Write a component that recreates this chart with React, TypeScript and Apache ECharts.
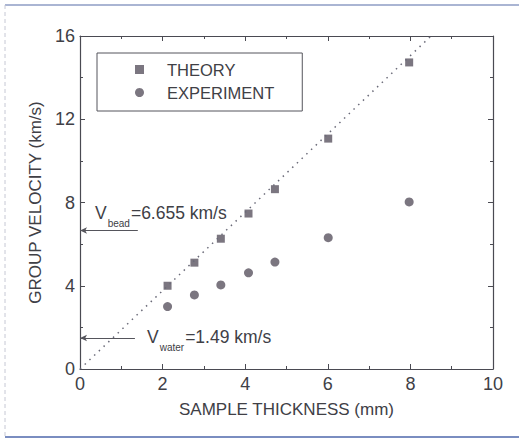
import React, { useEffect, useRef } from "react";
import * as echarts from "echarts";

const thicknessTheory = [2.12, 2.77, 3.41, 4.08, 4.72, 6.01, 7.97];
const velocityTheory = [4.0, 5.11, 6.26, 7.47, 8.64, 11.07, 14.73];
const thicknessExp = [2.12, 2.77, 3.41, 4.08, 4.72, 6.01, 7.97];
const velocityExp = [3.0, 3.56, 4.04, 4.62, 5.14, 6.31, 8.03];
const fitLineX = [0, 8.5];
const fitLineY = [0, 16];
const vBead = 6.655;
const vWater = 1.49;
const arrowEndBead = 1.4;
const arrowEndWater = 1.33;

const FONT = "'Liberation Sans', Arial, sans-serif";
const TXT = "#404046";
const AX = "#4a4a52";
const MK = "#5a5460";

export default function App() {
  const ref = useRef<HTMLDivElement>(null);
  useEffect(() => {
    if (!ref.current) return;
    const chart = echarts.init(ref.current, null, { renderer: "svg" });
    const axisCommon = {
      type: "value",
      axisLine: { show: true, onZero: false, lineStyle: { color: AX, width: 1.2 } },
      axisTick: { show: true, inside: true, length: 5, lineStyle: { color: AX } },
      minorTick: { show: true, splitNumber: 2, length: 3, lineStyle: { color: AX } },
      splitLine: { show: false },
      minorSplitLine: { show: false },
    };
    const rich = {
      m: { fontSize: 17.5, lineHeight: 20, verticalAlign: "top", fill: TXT, fontFamily: FONT },
      s: { fontSize: 10, lineHeight: 10, verticalAlign: "top", padding: [14, 1, 0, 1], fill: TXT, fontFamily: FONT },
    };
    const option = {
      animation: false,
      backgroundColor: "#ffffff",
      textStyle: { fontFamily: FONT },
      grid: { left: 80, top: 36, right: 26, bottom: 72 },
      legend: {
        data: ["THEORY", "EXPERIMENT"],
        orient: "vertical",
        left: 97,
        top: 53,
        itemWidth: 9,
        itemHeight: 9,
        itemGap: 6,
        padding: [8, 28, 10, 38],
        borderColor: "#55555c",
        borderWidth: 1,
        textStyle: { fontSize: 16.5, color: TXT, fontFamily: FONT, padding: [0, 0, 0, 18] },
      },
      xAxis: [
        {
          ...axisCommon,
          min: 0,
          max: 10,
          interval: 2,
          position: "bottom",
          name: "SAMPLE THICKNESS (mm)",
          nameLocation: "middle",
          nameGap: 32,
          nameTextStyle: { fontSize: 17, color: TXT, fontFamily: FONT },
          axisLabel: { fontSize: 18, color: TXT, margin: 6, fontFamily: FONT },
        },
        {
          ...axisCommon,
          min: 0,
          max: 10,
          interval: 2,
          position: "top",
          axisLabel: { show: false },
        },
      ],
      yAxis: [
        {
          ...axisCommon,
          min: 0,
          max: 16,
          interval: 4,
          position: "left",
          name: "GROUP VELOCITY (km/s)",
          nameLocation: "middle",
          nameGap: 32,
          nameTextStyle: { fontSize: 17, color: TXT, fontFamily: FONT },
          axisLabel: { fontSize: 18, color: TXT, margin: 5, fontFamily: FONT },
        },
        {
          ...axisCommon,
          min: 0,
          max: 16,
          interval: 4,
          position: "right",
          axisLabel: { show: false },
        },
      ],
      series: [
        {
          name: "fit",
          type: "line",
          data: fitLineX.map((x, i) => [x, fitLineY[i]]),
          showSymbol: false,
          silent: true,
          lineStyle: { type: [1.5, 5], color: "#6a6a78", width: 1.5 },
          markLine: {
            silent: true,
            symbol: ["arrow", "none"],
            symbolSize: [5, 7],
            label: { show: false },
            lineStyle: { type: "solid", color: "#55555c", width: 1 },
            data: [
              [{ coord: [0, vBead] }, { coord: [arrowEndBead, vBead] }],
              [{ coord: [0, vWater] }, { coord: [arrowEndWater, vWater] }],
            ],
          },
        },
        {
          name: "THEORY",
          type: "scatter",
          symbol: "rect",
          symbolSize: 8,
          itemStyle: { color: MK },
          data: thicknessTheory.map((x, i) => [x, velocityTheory[i]]),
        },
        {
          name: "EXPERIMENT",
          type: "scatter",
          symbol: "circle",
          symbolSize: 9,
          itemStyle: { color: MK },
          data: thicknessExp.map((x, i) => [x, velocityExp[i]]),
        },
      ],
      graphic: [
        { type: "line", shape: { x1: 5, y1: 5, x2: 519, y2: 5 }, style: { stroke: "#8e9dc4", lineWidth: 1.5 } },
        { type: "line", shape: { x1: 5, y1: 437, x2: 519, y2: 437 }, style: { stroke: "#7a8dc0", lineWidth: 2 } },
        { type: "line", shape: { x1: 5, y1: 5, x2: 5, y2: 437 }, style: { stroke: "#c6c8d4", lineWidth: 1, lineDash: [4, 3] } },
        {
          type: "text",
          left: 95,
          top: 204,
          style: { text: `{m|V}{s|bead}{m|=${vBead} km/s}`, rich },
        },
        {
          type: "text",
          left: 147,
          top: 328,
          style: { text: `{m|V}{s|water}{m|=${vWater} km/s}`, rich },
        },
      ],
    };
    chart.setOption(option as any);
    return () => chart.dispose();
  }, []);
  return <div ref={ref} style={{ width: 519, height: 441, position: "absolute", left: 0, top: 0 }} />;
}
